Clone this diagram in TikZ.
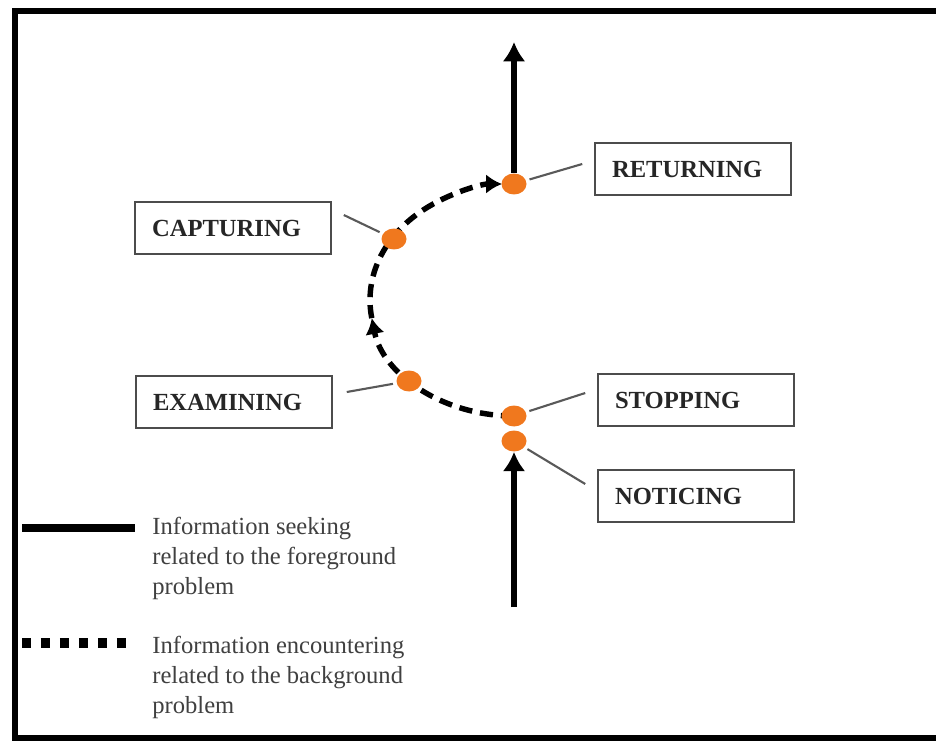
\documentclass[tikz,border=0pt]{standalone}
\usepackage{fontspec}
\setmainfont{Liberation Serif}
\usetikzlibrary{arrows.meta,shapes.geometric,backgrounds}
\definecolor{dotorange}{RGB}{240,120,30}

\begin{document}
\begin{tikzpicture}[x=0.02cm,y=-0.02cm,
	stage/.style={draw=black!70,line width=0.9pt,text width=3.24cm,inner xsep=0.34cm,minimum height=1.04cm,align=left,text=black!85,font=\fontsize{14}{16}\selectfont\bfseries},
	spot/.style={ellipse,fill=dotorange,minimum width=0.5cm,minimum height=0.42cm,inner sep=0},
	lead/.style={black!65,line width=1.2pt,shorten <=2pt},
	seek/.style={-{Latex[length=11pt,width=13pt]},line width=2.9pt},
	meet/.style={-{Latex[length=9pt,width=11pt]},line width=3.1pt,dash pattern=on 7.5pt off 4.5pt},
	legend/.style={align=left,anchor=north west,inner sep=0,text=black!75,font=\fontsize{14}{17}\selectfont}]

\useasboundingbox (0,0) rectangle (936,743);
\clip (0,0) rectangle (936,743);

%draw frame
\draw[line width=3.4pt] (15,11) rectangle (960,738);

%draw stage boxes
\foreach \name/\x/\y/\txt in {ret/693/169/RETURNING,capt/233/228/CAPTURING,exam/234/402/EXAMINING,stop/696/400/STOPPING,notc/696/496/NOTICING}
	{
	\node[stage] (\name) at (\x,\y) {\txt};
	}

%draw dots
\node[spot] (dret) at (514,184) {};
\node[spot] (dcapt) at (394,239) {};
\node[spot] (dexam) at (409,381) {};
\node[spot] (dstop) at (514,416) {};
\node[spot] (dnotc) at (514,441) {};

%draw leader lines
\draw[lead] (dret) -- ([shift={(-12,-5)}]ret.west);
\draw[lead] (dcapt) -- ([shift={(12,-13)}]capt.east);
\draw[lead] (dexam) -- ([shift={(14,-10)}]exam.east);
\draw[lead] (dstop) -- ([shift={(-12,-7)}]stop.west);
\draw[lead] (dnotc) -- ([shift={(-12,-12)}]notc.west);

%draw foreground seeking
\coordinate (top) at (514,42);
\coordinate (bottom) at (514,607);
\draw[seek] (dret) -- (top);
\draw[seek] (bottom) -- (dnotc);

%draw background encountering
\begin{scope}[on background layer]
\draw[meet] (dstop.center) arc[start angle=90,end angle=171,x radius=144,y radius=116] coordinate (turn);
\draw[meet,shorten >=0.24cm] (turn) arc[start angle=171,end angle=270,x radius=144,y radius=116];
\end{scope}

%draw legend
\draw[line width=4.5pt] (22,528) -- (135,528);
\draw[line width=5.2pt,dash pattern=on 5.2pt off 5.6pt] (22,643) -- (128,643);
\node[legend] (keyseek) at (152,517) {Information seeking\\related to the foreground\\problem};
\node[legend] (keymeet) at (152,636) {Information encountering\\related to the background\\problem};

\end{tikzpicture}
\end{document}
